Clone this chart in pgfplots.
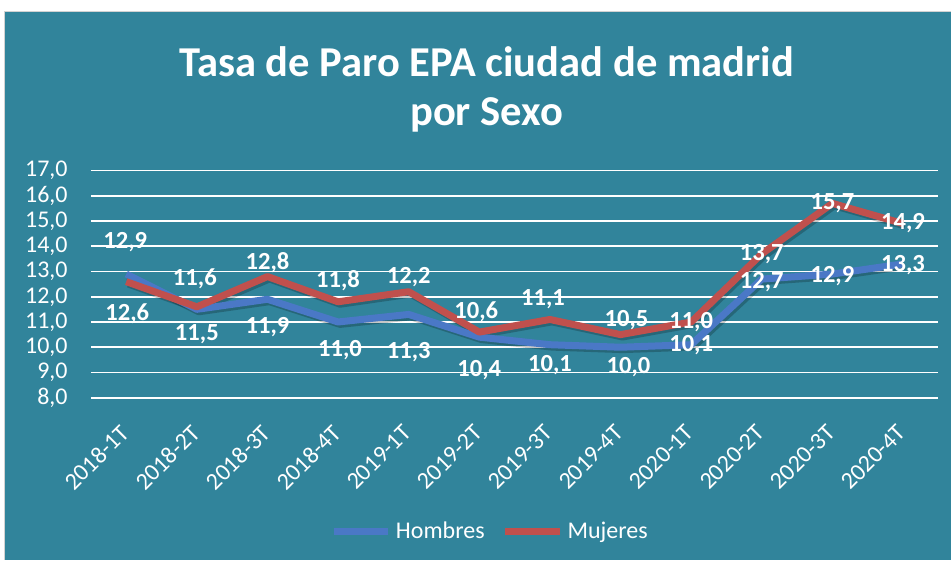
\documentclass[border=0pt]{standalone}
\usepackage{pgfplots}
\pgfplotsset{compat=1.18}
\usepackage{pgfplotstable}
\usepackage{fontspec}
\setmainfont{Carlito}
\definecolor{bg}{HTML}{31849B}
\definecolor{hblue}{HTML}{4A78C6}
\definecolor{mred}{HTML}{C0504D}

\pgfplotstableread{
i h hdx hdy m mdx mdy
0 12.9 -0.5 16 12.6 0.5 -16
1 11.5 0 -12.5 11.6 -1 14
2 11.9 0 -14 12.8 0 7
3 11.0 1 -14 11.8 0 10.5
4 11.3 0 -19 12.2 0 7.5
5 10.4 0 -16.5 10.6 -1.5 10
6 10.1 0 -10 11.1 -3.5 10
7 10.0 4 -10 10.5 3 7.5
8 10.1 0 0 11.0 0 0
9 12.7 0 -1.5 13.7 0 0
10 12.9 0 -1 15.7 0 0
11 13.3 0 -0.5 14.9 0 0
}\data

\begin{document}
\begin{tikzpicture}
\fill[white] (0,0) rectangle (476pt,280pt);
\fill[bg] (2.5pt,0) rectangle (476pt,274pt);
\draw[gray!35, line width=0.7pt] (2.2pt,0) -- (2.2pt,274.3pt) -- (476pt,274.3pt);
\node[text=white, font=\bfseries\fontsize{21.3}{24}\selectfont] at (243.5pt,249pt) {Tasa de Paro EPA ciudad de madrid};
\node[text=white, font=\bfseries\fontsize{21.3}{24}\selectfont] at (243.5pt,222.5pt) {por Sexo};
\begin{axis}[
  at={(45.5pt,81pt)}, anchor=south west,
  scale only axis, width=424pt, height=113.65pt,
  xmin=-0.5, xmax=11.5, ymin=8, ymax=17,
  ytick={8,9,...,17}, xtick={0,...,11},
  xticklabels={2018-1T,2018-2T,2018-3T,2018-4T,2019-1T,2019-2T,2019-3T,2019-4T,2020-1T,2020-2T,2020-3T,2020-4T},
  yticklabel={\pgfmathprintnumber[fixed,fixed zerofill,precision=1,use comma,assume math mode=true]{\tick}},
  axis line style={draw=none}, major tick length=0pt,
  ymajorgrids, grid style={white, line width=0.9pt},
  tick label style={text=white, font=\fontsize{12}{14}\selectfont},
  yticklabel style={anchor=east, inner sep=0pt, xshift=-11.5pt},
  xticklabel style={xshift=-3.5pt, yshift=-12.5pt, rotate=45, anchor=north east, inner sep=0pt},
  legend style={at={(0.472,-0.59)}, anchor=center, draw=none, fill=none, text=white,
    font=\fontsize{12}{14}\selectfont, legend columns=2,
    /tikz/every even column/.append style={column sep=6.5pt}},
  legend image code/.code={\draw[#1, line width=3.5pt] (0pt,0pt) -- (27.5pt,0pt);},
]
\addplot[black, opacity=0.22, line width=3.5pt, line join=round, xshift=1pt, yshift=-1.2pt, forget plot] table[x=i,y=h]{\data};
\addplot[black, opacity=0.22, line width=3.5pt, line join=round, xshift=1pt, yshift=-1.2pt, forget plot] table[x=i,y=m]{\data};
\addplot[hblue, line width=3.5pt, line join=round] table[x=i,y=h]{\data};
\addlegendentry{Hombres}
\addplot[mred, line width=3.5pt, line join=round] table[x=i,y=m]{\data};
\addlegendentry{Mujeres}
\addplot[draw=none, forget plot,
  nodes near coords={\pgfmathprintnumber[fixed,fixed zerofill,precision=1,use comma,assume math mode=true]{\pgfplotspointmeta}},
  visualization depends on={\thisrow{hdx}\as\ldx},
  visualization depends on={\thisrow{hdy}\as\ldy},
  every node near coord/.append style={text=white, font=\bfseries\fontsize{12.3}{14}\selectfont, anchor=center, inner sep=0pt, xshift=\ldx pt, yshift=\ldy pt}]
  table[x=i,y=h]{\data};
\addplot[draw=none, forget plot,
  nodes near coords={\pgfmathprintnumber[fixed,fixed zerofill,precision=1,use comma,assume math mode=true]{\pgfplotspointmeta}},
  visualization depends on={\thisrow{mdx}\as\ldx},
  visualization depends on={\thisrow{mdy}\as\ldy},
  every node near coord/.append style={text=white, font=\bfseries\fontsize{12.3}{14}\selectfont, anchor=center, inner sep=0pt, xshift=\ldx pt, yshift=\ldy pt}]
  table[x=i,y=m]{\data};
\end{axis}
\end{tikzpicture}
\end{document}
